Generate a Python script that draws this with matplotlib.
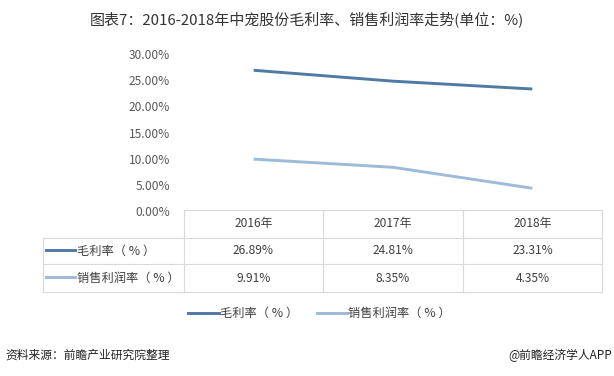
import matplotlib
matplotlib.use("Agg")
import matplotlib.pyplot as plt
from matplotlib.lines import Line2D

plt.rcParams['font.family'] = ['Noto Sans CJK SC', 'DejaVu Sans']

years = ["2016年", "2017年", "2018年"]
gross_margin = [26.89, 24.81, 23.31]
net_margin = [9.91, 8.35, 4.35]
series_names = ["毛利率（ % ）", "销售利润率（ % ）"]
yticks = [0, 5, 10, 15, 20, 25, 30]
title = "图表7：2016-2018年中宠股份毛利率、销售利润率走势(单位：%)"
source = "资料来源：前瞻产业研究院整理"
brand = "@前瞻经济学人APP"

colors = ["#4E7AA5", "#9DBAD9"]
W, H = 614, 376
fig = plt.figure(figsize=(W/100, H/100), dpi=100)

def fx(x):
    return x / W

def fy(y):
    return 1 - y / H

ax = fig.add_axes([fx(184), fy(211), fx(602) - fx(184), fy(54) - fy(211)])
x = list(range(len(years)))
ax.plot(x, [v / 100 for v in gross_margin], color=colors[0], lw=2.1, solid_capstyle='butt')
ax.plot(x, [v / 100 for v in net_margin], color=colors[1], lw=2.1, solid_capstyle='butt')
ax.set_xlim(-0.5, len(years) - 0.5)
ax.set_ylim(0, 0.30)
ax.set_yticks([t / 100 for t in yticks])
ax.set_yticklabels([f"{t:.2f}%" for t in yticks], color="#595959", fontsize=8.6)
ax.tick_params(axis='y', length=0, pad=10)
ax.set_xticks([])
for s in ax.spines.values():
    s.set_visible(False)

# table
gc = "#D9D9D9"
rows_y = [210, 238, 264, 292]
cols_x = [184, 323, 463, 602]
left_x = 43
def hline(x0, x1, y):
    fig.add_artist(Line2D([fx(x0), fx(x1)], [fy(y), fy(y)], color=gc, lw=0.8))
def vline(x, y0, y1):
    fig.add_artist(Line2D([fx(x), fx(x)], [fy(y0), fy(y1)], color=gc, lw=0.8))
hline(cols_x[0], cols_x[-1], rows_y[0])
for y in rows_y[1:]:
    hline(left_x, cols_x[-1], y)
for xx in cols_x:
    vline(xx, rows_y[0], rows_y[-1])
vline(left_x, rows_y[1], rows_y[-1])

tc = "#404040"
for i, yr in enumerate(years):
    cx = (cols_x[i] + cols_x[i + 1]) / 2
    fig.text(fx(cx), fy((rows_y[0] + rows_y[1]) / 2), yr, ha='center', va='center', fontsize=8.6, color=tc)
for r, (vals, name) in enumerate([(gross_margin, series_names[0]), (net_margin, series_names[1])]):
    cy = (rows_y[r + 1] + rows_y[r + 2]) / 2
    fig.add_artist(Line2D([fx(46), fx(75)], [fy(cy - 1), fy(cy - 1)], color=colors[r], lw=2.1))
    fig.text(fx(77), fy(cy), name, ha='left', va='center', fontsize=8.8, color=tc)
    for i, v in enumerate(vals):
        cx = (cols_x[i] + cols_x[i + 1]) / 2
        fig.text(fx(cx), fy(cy), f"{v:.2f}%", ha='center', va='center', fontsize=8.6, color=tc)

# legend
ly = 313
fig.add_artist(Line2D([fx(188), fx(219)], [fy(ly), fy(ly)], color=colors[0], lw=2.1))
fig.text(fx(220), fy(ly), series_names[0], ha='left', va='center', fontsize=8.8, color=tc)
fig.add_artist(Line2D([fx(317), fx(347)], [fy(ly), fy(ly)], color=colors[1], lw=2.1))
fig.text(fx(348), fy(ly), series_names[1], ha='left', va='center', fontsize=8.8, color=tc)

fig.text(0.5, fy(19), title, ha='center', va='center', fontsize=10.8, color="#333333")
fig.text(fx(5), fy(355), source, ha='left', va='center', fontsize=8.5, color="#222222", style='italic')
fig.text(fx(612), fy(355), brand, ha='right', va='center', fontsize=8.5, color="#222222")

fig.savefig("out.png", dpi=100, facecolor='white')
